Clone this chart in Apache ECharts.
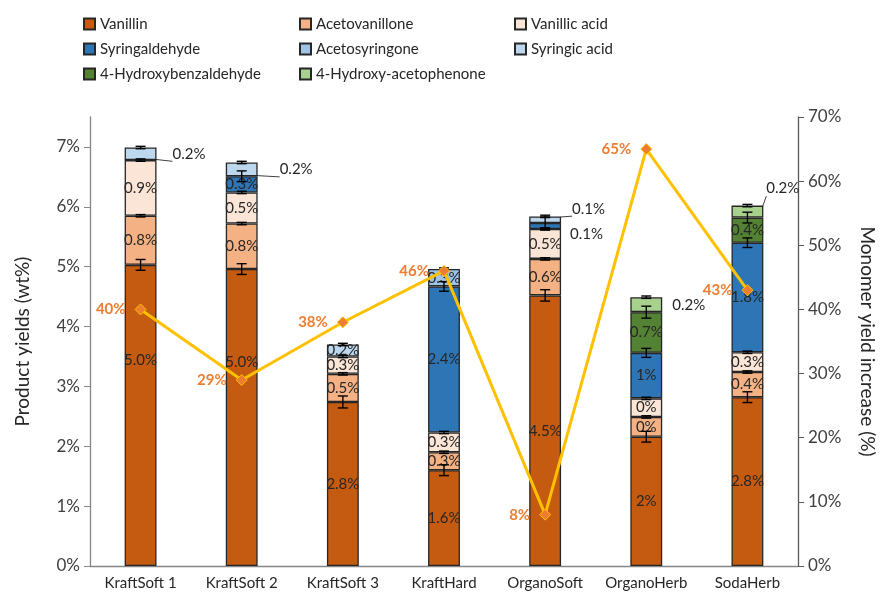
<!DOCTYPE html>
<html>
<head>
<meta charset="utf-8">
<script src="https://cdn.jsdelivr.net/npm/echarts@6/dist/echarts.min.js"></script>
<style>
  html, body { margin: 0; padding: 0; background: #fff; }
  #chart { width: 880px; height: 595px; }
</style>
</head>
<body>
<div id="chart"></div>
<script>
// categories
var samples = ['KraftSoft 1', 'KraftSoft 2', 'KraftSoft 3', 'KraftHard', 'OrganoSoft', 'OrganoHerb', 'SodaHerb'];

// product yields (wt%), 0 = not present
var vanillin       = [5.03, 4.96, 2.74, 1.60, 4.52, 2.16, 2.82];
var acetovanillone = [0.82, 0.76, 0.47, 0.30, 0.61, 0.33, 0.42];
var vanillicAcid   = [0.93, 0.52, 0.29, 0.33, 0.50, 0.31, 0.33];
var syringaldehyde = [0, 0.27, 0, 2.44, 0.10, 0.76, 1.83];
var acetosyringone = [0, 0, 0, 0.29, 0, 0, 0];
var syringicAcid   = [0.21, 0.23, 0.20, 0, 0.11, 0, 0];
var hydroxyBenz    = [0, 0, 0, 0, 0, 0.68, 0.42];
var hydroxyAceto   = [0, 0, 0, 0, 0, 0.25, 0.20];

// error (+/-) on top of each segment
var errVanillin       = [0.09, 0.09, 0.10, 0.09, 0.095, 0.09, 0.09];
var errAcetovanillone = [0.02, 0.02, 0.02, 0.02, 0.02, 0.02, 0.02];
var errVanillicAcid   = [0.02, 0.02, 0.02, 0.02, 0.02, 0.02, 0.02];
var errSyringaldehyde = [0, 0.09, 0, 0.08, 0.10, 0.075, 0.08];
var errAcetosyringone = [0, 0, 0, 0.02, 0, 0, 0];
var errSyringicAcid   = [0.02, 0.02, 0.02, 0, 0.02, 0, 0];
var errHydroxyBenz    = [0, 0, 0, 0, 0, 0.10, 0.09];
var errHydroxyAceto   = [0, 0, 0, 0, 0, 0.02, 0.02];

// bar labels as printed
var labVanillin       = ['5.0%', '5.0%', '2.8%', '1.6%', '4.5%', '2%', '2.8%'];
var labAcetovanillone = ['0.8%', '0.8%', '0.5%', '0.3%', '0.6%', '0%', '0.4%'];
var labVanillicAcid   = ['0.9%', '0.5%', '0.3%', '0.3%', '0.5%', '0%', '0.3%'];
var labSyringaldehyde = ['', '0.3%', '', '2.4%', '0.1%', '1%', '1.8%'];
var labAcetosyringone = ['', '', '', '0.3%', '', '', ''];
var labSyringicAcid   = ['0.2%', '0.2%', '0.2%', '', '0.1%', '', ''];
var labHydroxyBenz    = ['', '', '', '', '', '0.7%', '0.4%'];
var labHydroxyAceto   = ['', '', '', '', '', '0.2%', '0.2%'];

// monomer yield increase (%)
var yieldIncrease = [40, 29, 38, 46, 8, 65, 43];

var FONT = 'Lato';
var TXT = '#262626';

// labels that sit outside the bars (series|index)
var outside = {
    'Syringic acid|0': { distance: 16, offset: [0, 0], line: true },
    'Syringic acid|1': { distance: 22, offset: [0, 0], line: true },
    'Syringic acid|4': { distance: 11, offset: [0, -11], line: true },
    'Syringaldehyde|4': { distance: 9, offset: [0, 8], line: false },
    '4-Hydroxy-acetophenone|5': { distance: 10, offset: [0, 0], line: false },
    '4-Hydroxy-acetophenone|6': { distance: 3, offset: [0, -23], line: true }
};
var shifted = { 'Vanillin|0': [0, -55], 'Vanillin|1': [0, -55] };

var defs = [
    ['Vanillin', '#C55A11', vanillin, labVanillin, errVanillin],
    ['Acetovanillone', '#F4B183', acetovanillone, labAcetovanillone, errAcetovanillone],
    ['Vanillic acid', '#FBE5D6', vanillicAcid, labVanillicAcid, errVanillicAcid],
    ['Syringaldehyde', '#2E75B6', syringaldehyde, labSyringaldehyde, errSyringaldehyde],
    ['Acetosyringone', '#9DC3E6', acetosyringone, labAcetosyringone, errAcetosyringone],
    ['Syringic acid', '#BDD7EE', syringicAcid, labSyringicAcid, errSyringicAcid],
    ['4-Hydroxybenzaldehyde', '#548235', hydroxyBenz, labHydroxyBenz, errHydroxyBenz],
    ['4-Hydroxy-acetophenone', '#A9D18E', hydroxyAceto, labHydroxyAceto, errHydroxyAceto]
];

var series = [];
var errData = [];
var running = samples.map(function () { return 0; });

defs.forEach(function (d) {
    var name = d[0];
    var data = d[2].map(function (v, i) {
        if (!v) return '-';
        var key = name + '|' + i;
        var item = { value: v, label: { formatter: d[3][i] } };
        if (outside[key]) {
            var o = outside[key];
            item.label.position = 'right';
            item.label.distance = o.distance;
            item.label.offset = o.offset;
            item.labelLine = { show: o.line, lineStyle: { color: '#404040', width: 1 } };
        } else if (shifted[key]) {
            item.label.offset = shifted[key];
        }
        return item;
    });
    d[2].forEach(function (v, i) {
        if (!v) return;
        running[i] += v;
        errData.push([i, running[i], d[4][i]]);
    });
    series.push({
        name: name,
        type: 'bar',
        stack: 'yield',
        barWidth: '31.5%',
        itemStyle: { color: d[1], borderColor: '#262626', borderWidth: 1.3 },
        label: {
            show: true,
            position: 'inside',
            color: TXT,
            fontFamily: FONT,
            fontSize: 15
        },
        emphasis: { disabled: true },
        data: data
    });
});

function renderErr(params, api) {
    var x = api.value(0), y = api.value(1), e = api.value(2);
    var hi = api.coord([x, y + e]);
    var lo = api.coord([x, y - e]);
    var w = 5;
    var st = { stroke: '#000', lineWidth: 1.4 };
    return {
        type: 'group',
        children: [
            { type: 'line', shape: { x1: hi[0], y1: hi[1], x2: lo[0], y2: lo[1] }, style: st },
            { type: 'line', shape: { x1: hi[0] - w, y1: hi[1], x2: hi[0] + w, y2: hi[1] }, style: st },
            { type: 'line', shape: { x1: lo[0] - w, y1: lo[1], x2: lo[0] + w, y2: lo[1] }, style: st }
        ]
    };
}

series.push({
    type: 'custom',
    name: 'err',
    renderItem: renderErr,
    data: errData,
    z: 5,
    silent: true
});

series.push({
    name: 'Monomer yield increase',
    type: 'line',
    yAxisIndex: 1,
    data: yieldIncrease,
    symbol: 'diamond',
    symbolSize: 11,
    z: 6,
    lineStyle: { color: '#FFC000', width: 3 },
    itemStyle: { color: '#ED7D31', borderColor: '#FFC000', borderWidth: 1 },
    label: {
        show: true,
        position: 'left',
        distance: 9,
        formatter: '{c}%',
        color: '#ED7D31',
        fontWeight: 'bold',
        fontFamily: FONT,
        fontSize: 15
    },
    emphasis: { disabled: true }
});

function legendCol(left, names) {
    return {
        orient: 'vertical',
        left: left,
        top: 11,
        itemWidth: 11,
        itemHeight: 11,
        itemGap: 9,
        icon: 'rect',
        selectedMode: false,
        data: names,
        textStyle: { color: TXT, fontFamily: FONT, fontSize: 15, lineHeight: 16 }
    };
}

var chart = echarts.init(document.getElementById('chart'));
chart.setOption({
    backgroundColor: '#fff',
    animation: false,
    textStyle: { fontFamily: FONT },
    legend: [
        legendCol(78, ['Vanillin', 'Syringaldehyde', '4-Hydroxybenzaldehyde']),
        legendCol(294, ['Acetovanillone', 'Acetosyringone', '4-Hydroxy-acetophenone']),
        legendCol(509, ['Vanillic acid', 'Syringic acid'])
    ],
    grid: { left: 90, right: 82, top: 117, bottom: 29, outerBoundsMode: 'none', containLabel: false },
    xAxis: {
        type: 'category',
        data: samples,
        axisTick: { show: false },
        axisLine: { lineStyle: { color: '#868686', width: 1.3 } },
        axisLabel: { color: TXT, fontFamily: FONT, fontSize: 15, margin: 10, interval: 0 }
    },
    yAxis: [
        {
            type: 'value',
            min: 0,
            max: 7.5,
            interval: 1,
            name: 'Product yields (wt%)',
            nameLocation: 'middle',
            nameGap: 58,
            nameTextStyle: { color: TXT, fontFamily: FONT, fontSize: 19 },
            splitLine: { show: false },
            axisLine: { show: true, lineStyle: { color: '#868686', width: 1.3 } },
            axisTick: { show: true, length: 6, customValues: [0, 1, 2, 3, 4, 5, 6, 7], lineStyle: { color: '#868686' } },
            axisLabel: {
                color: '#404040', fontFamily: FONT, fontSize: 17, margin: 10,
                customValues: [0, 1, 2, 3, 4, 5, 6, 7],
                formatter: function (v) { return v > 7 ? '' : v + '%'; }
            }
        },
        {
            type: 'value',
            min: 0,
            max: 70,
            interval: 10,
            position: 'right',
            name: 'Monomer yield increase (%)',
            nameLocation: 'middle',
            nameRotate: -90,
            nameGap: 60,
            nameTextStyle: { color: TXT, fontFamily: FONT, fontSize: 19 },
            splitLine: { show: false },
            axisLine: { show: true, lineStyle: { color: '#595959', width: 1.3 } },
            axisTick: { show: true, length: 6, lineStyle: { color: '#595959' } },
            axisLabel: { color: '#404040', fontFamily: FONT, fontSize: 17, margin: 10, formatter: '{value}%' }
        }
    ],
    series: series
});
</script>
</body>
</html>
